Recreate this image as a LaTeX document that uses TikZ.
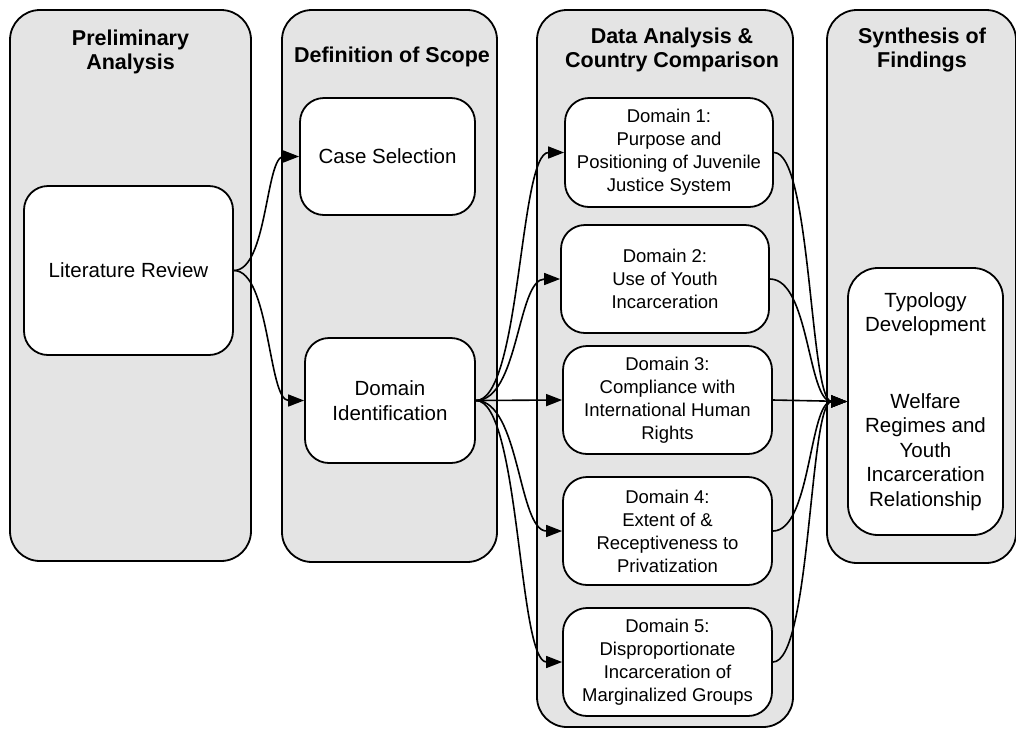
\documentclass[tikz,border=0pt]{standalone}
\usepackage{fontspec}
\setmainfont{Liberation Sans}
\usetikzlibrary{arrows.meta}
\definecolor{panelgray}{HTML}{E4E4E4}
\begin{document}
\begin{tikzpicture}[x=1pt,y=-1pt,
  panel/.style={draw=black, fill=panelgray, line width=1.8pt, rounded corners=30pt, inner sep=0pt},
  box/.style={draw=black, fill=white, line width=1.8pt, rounded corners=24pt, inner sep=0pt, align=center},
  ptitle/.style={align=center, font=\fontsize{21.5}{24}\selectfont\bfseries, inner sep=0pt},
  bigtxt/.style={font=\fontsize{20.5}{24.5}\selectfont},
  domtxt/.style={font=\fontsize{18.5}{23}\selectfont},
  conn/.style={line width=1.6pt, -{Triangle[length=16pt,width=12pt]}}
]
\useasboundingbox (0,0) rectangle (1016,729);

% panels
\node[panel, minimum width=241pt, minimum height=551pt] (p1) at (130.5,285.5) {};
\node[panel, minimum width=215pt, minimum height=552pt] (p2) at (389.5,286) {};
\node[panel, minimum width=256pt, minimum height=717pt] (p3) at (665,368.5) {};
\node[panel, minimum width=189pt, minimum height=553pt] (p4) at (921.5,286.5) {};

% titles
\node[ptitle] (t1) at (130.5,52) {Preliminary\\Analysis};
\node[ptitle] (t2) at (392,57) {Definition of Scope};
\node[ptitle] (t3) at (672,50) {Data Analysis \&\\Country Comparison};
\node[ptitle] (t4) at (922,50) {Synthesis of\\Findings};

% boxes
\node[box, bigtxt, minimum width=209pt, minimum height=169pt] (lit) at (128.5,270.5) {Literature Review};
\node[box, bigtxt, minimum width=175pt, minimum height=117pt] (case) at (387.5,156.5) {Case Selection};
\node[box, bigtxt, minimum width=170pt, minimum height=125pt] (did) at (390,400.5) {Domain\\Identification};

\node[box, domtxt, minimum width=208pt, minimum height=109pt] (d1) at (669,152.5) {Domain 1:\\Purpose and\\Positioning of Juvenile\\Justice System};
\node[box, domtxt, minimum width=208pt, minimum height=108pt] (d2) at (665,279) {Domain 2:\\Use of Youth\\Incarceration};
\node[box, domtxt, minimum width=209pt, minimum height=108pt] (d3) at (667.5,400) {Domain 3:\\Compliance with\\International Human\\Rights};
\node[box, domtxt, minimum width=209pt, minimum height=108pt] (d4) at (667.5,531) {Domain 4:\\Extent of \&\\Receptiveness to\\Privatization};
\node[box, domtxt, minimum width=209pt, minimum height=108pt] (d5) at (667.5,662) {Domain 5:\\Disproportionate\\Incarceration of\\Marginalized Groups};

\node[box, bigtxt, rounded corners=30pt, minimum width=155pt, minimum height=267pt] (typ) at (925.5,401.5) {Typology\\Development\\[52pt]Welfare\\Regimes and\\Youth\\Incarceration\\Relationship};

% connectors
\draw[conn] (lit.east) .. controls +(33.5,0) and +(-33.5,0) .. (case.west);
\draw[conn] (lit.east) .. controls +(36,0) and +(-36,0) .. (did.west);
\draw[conn] (did.east) .. controls +(45,0) and +(-45,0) .. (d1.west);
\draw[conn] (did.east) .. controls +(43,0) and +(-43,0) .. (d2.west);
\draw[conn] (did.east) -- (d3.west);
\draw[conn] (did.east) .. controls +(44,0) and +(-44,0) .. (d4.west);
\draw[conn] (did.east) .. controls +(44,0) and +(-44,0) .. (d5.west);
\draw[conn] (d1.east) .. controls +(37.5,0) and +(-37.5,0) .. (typ.west);
\draw[conn] (d2.east) .. controls +(39.5,0) and +(-39.5,0) .. (typ.west);
\draw[conn] (d3.east) -- (typ.west);
\draw[conn] (d4.east) .. controls +(38,0) and +(-38,0) .. (typ.west);
\draw[conn] (d5.east) .. controls +(38,0) and +(-38,0) .. (typ.west);
\end{tikzpicture}
\end{document}
